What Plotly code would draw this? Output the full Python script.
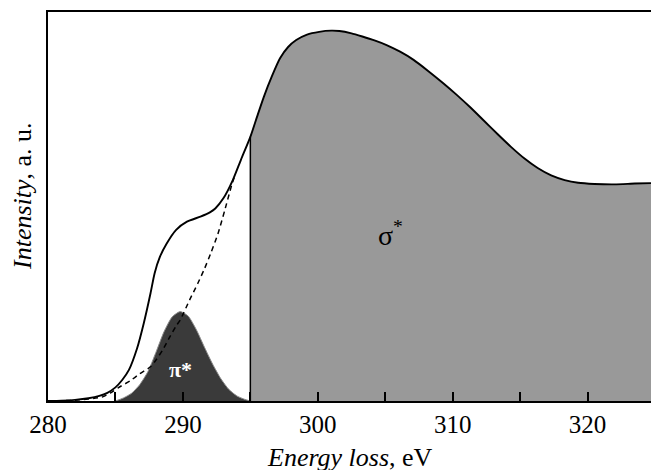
import plotly.graph_objects as go

# Measured spectrum (energy loss, eV -> intensity, a.u.)
spec_x = [280, 281, 282, 283, 283.8, 284.4, 285.0, 285.5, 286.0, 286.6, 287.1, 287.6,
          287.9, 288.3, 288.8, 289.5, 290.3, 291.3, 292.0, 292.4, 293.0, 293.7,
          294.3, 295.0, 295.5, 296.0, 296.6, 297.2, 297.8, 298.4, 299.2, 300.1,
          301.0, 301.6, 302.5, 303.3, 304.2, 305.1, 306.1, 307.1, 308.2, 309.3,
          310.3, 311.3, 312.3, 313.3, 314.3, 315.3, 316.3, 317.3, 318.3, 319.3,
          320.5, 322.0, 323.5, 324.7]
spec_y = [0.0, 0.001, 0.003, 0.007, 0.013, 0.021, 0.035, 0.054, 0.08, 0.135, 0.2, 0.277,
          0.328, 0.371, 0.405, 0.44, 0.461, 0.474, 0.485, 0.495, 0.521, 0.568,
          0.62, 0.679, 0.731, 0.782, 0.835, 0.881, 0.91, 0.928, 0.942, 0.949,
          0.952, 0.951, 0.945, 0.937, 0.927, 0.915, 0.898, 0.877, 0.848, 0.817,
          0.787, 0.755, 0.721, 0.687, 0.654, 0.624, 0.599, 0.58, 0.568, 0.561,
          0.558, 0.557, 0.559, 0.56]

# Background (dashed)
bg_x = [280, 282, 284, 284.6, 285.2, 286.1, 286.8, 287.6, 288.0, 288.5, 289.0, 289.5,
        289.8, 290.5, 291.1, 291.6, 292.1, 292.6, 293.1, 293.6, 293.9]
bg_y = [0.0, 0.002, 0.01, 0.02, 0.034, 0.052, 0.07, 0.088, 0.105, 0.131, 0.163, 0.193,
        0.208, 0.26, 0.302, 0.34, 0.383, 0.43, 0.49, 0.553, 0.585]

# pi* peak
pi_x = [285.0, 285.6, 286.2, 286.8, 287.4, 288.0, 288.6, 289.2, 289.8, 290.4, 291.0,
        291.6, 292.2, 292.8, 293.4, 294.0, 294.6, 295.0]
pi_y = [0.0, 0.008, 0.02, 0.042, 0.075, 0.125, 0.178, 0.216, 0.23, 0.218, 0.183,
        0.138, 0.095, 0.058, 0.03, 0.013, 0.004, 0.0]

sigma_start = 295.0
tick_vals = [280, 290, 300, 310, 320]
tick_text = ["280", "290", "300", "310", "320"]

FONT = "Liberation Serif, Times New Roman, serif"

sig_x = [x for x in spec_x if x >= sigma_start]
sig_y = [y for x, y in zip(spec_x, spec_y) if x >= sigma_start]
edge_y = spec_y[spec_x.index(sigma_start)]

fig = go.Figure()
fig.add_trace(go.Scatter(x=sig_x, y=sig_y, mode="lines", fill="tozeroy",
                         fillcolor="#999999", line=dict(width=0, shape="spline", smoothing=0.6),
                         hoverinfo="skip"))
fig.add_trace(go.Scatter(x=pi_x, y=pi_y, mode="lines", fill="tozeroy",
                         fillcolor="#3a3a3a", line=dict(color="#8a8a8a", width=1, shape="spline", smoothing=0.6),
                         hoverinfo="skip"))
fig.add_trace(go.Scatter(x=[sigma_start, sigma_start], y=[0, edge_y], mode="lines",
                         line=dict(color="black", width=1.5), hoverinfo="skip"))
fig.add_trace(go.Scatter(x=bg_x, y=bg_y, mode="lines",
                         line=dict(color="black", width=1.5, dash="5px,4px", shape="spline", smoothing=0.6),
                         hoverinfo="skip"))
fig.add_trace(go.Scatter(x=spec_x, y=spec_y, mode="lines",
                         line=dict(color="black", width=1.9, shape="spline", smoothing=0.6),
                         hoverinfo="skip"))

fig.add_annotation(x=289.8, y=0.082, text="<b>π*</b>", showarrow=False,
                   font=dict(family=FONT, size=22, color="white"))
fig.add_annotation(x=305.4, y=0.43, text="σ<sup>*</sup>", showarrow=False,
                   font=dict(family=FONT, size=28, color="black"))
fig.add_annotation(xref="paper", yref="paper", x=0, y=0.527, xshift=-25,
                   text="<i>Intensity</i>, a. u.", textangle=-90, showarrow=False,
                   xanchor="center", yanchor="middle",
                   font=dict(family=FONT, size=26, color="black"))
fig.add_annotation(xref="paper", yref="paper", x=0.5, y=0, yshift=-56,
                   text="<i>Energy loss</i>, eV", showarrow=False,
                   xanchor="center", yanchor="middle",
                   font=dict(family=FONT, size=26, color="black"))

fig.update_layout(
    width=651, height=470,
    margin=dict(l=48, r=0, t=12, b=69),
    paper_bgcolor="white", plot_bgcolor="white",
    showlegend=False,
    font=dict(family=FONT, size=25, color="black"),
)
fig.update_xaxes(range=[280, 324.7], tickvals=tick_vals, ticktext=tick_text,
                 ticks="inside", ticklen=9, tickwidth=1.5, tickcolor="black",
                 minor=dict(dtick=5, tick0=280, ticks="inside", ticklen=9, tickwidth=1.5, tickcolor="black"),
                 showline=True, linecolor="black", linewidth=2, mirror=True,
                 showgrid=False, zeroline=False,
                 tickfont=dict(family=FONT, size=25, color="black"))
fig.update_yaxes(range=[0, 1], showticklabels=False, ticks="",
                 showline=True, linecolor="black", linewidth=2,
                 showgrid=False, zeroline=False)

fig.write_html("out.html", config={"displayModeBar": False},
               post_script="document.body.style.margin='0';document.body.style.padding='0';")
